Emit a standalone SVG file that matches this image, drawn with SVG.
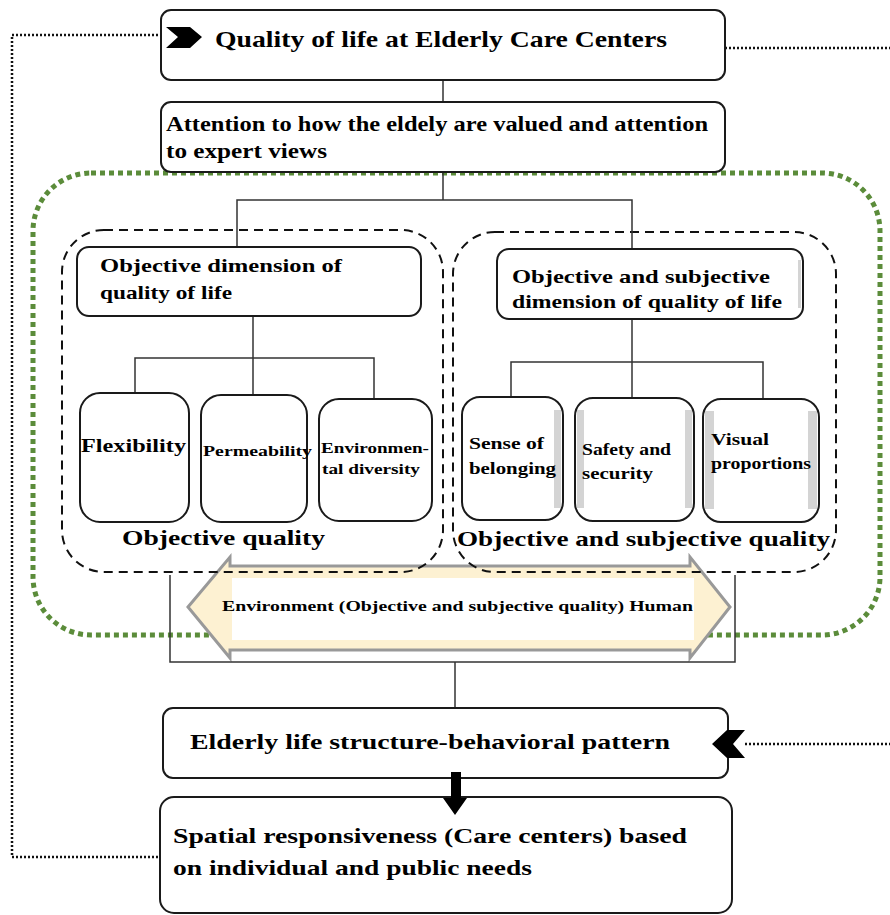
<svg xmlns="http://www.w3.org/2000/svg" width="890" height="915" viewBox="0 0 890 915">
<style>
.box{fill:#fff;stroke:#1a1a1a;stroke-width:2}
.t{font-family:"Liberation Serif","Times New Roman",serif;font-weight:bold;fill:#000}
.ln{fill:none;stroke:#333;stroke-width:1.5}
.dot{fill:none;stroke:#111;stroke-width:2.5;stroke-dasharray:2 2}
.dash{fill:none;stroke:#111;stroke-width:2;stroke-dasharray:9 6}
.stripe{fill:#d4d4d4}
</style>
<rect id="green-region" x="33" y="173" width="847" height="462" rx="58" fill="none" stroke="#5b8c3a" stroke-width="5" stroke-dasharray="5 4"/>
<g id="env-arrow">
<polygon points="188,607 230,557 230,566 690,566 690,557 730,607 690,658 690,650 230,650 230,658" fill="#fdf1d2" stroke="#999" stroke-width="3"/>
<rect x="232" y="578" width="462" height="62" fill="#fff"/>
<text class="t" x="222" y="611" font-size="15" textLength="471" lengthAdjust="spacingAndGlyphs">Environment  (Objective and subjective quality) Human</text>
</g>
<g id="objective-group">
<rect class="dash" x="62" y="230" width="381" height="342" rx="42"/>
</g>
<g id="subjective-group">
<rect class="dash" x="453" y="232" width="383" height="340" rx="42"/>
</g>
<g id="connectors">
<line class="ln" x1="443" y1="80" x2="443" y2="102"/>
<polyline class="ln" points="443,160 443,200"/>
<polyline class="ln" points="237,247 237,200 632,200 632,249"/>
<line class="ln" x1="253" y1="316" x2="253" y2="395"/>
<polyline class="ln" points="135,393 135,358 374,358 374,399"/>
<line class="ln" x1="632" y1="319" x2="632" y2="398"/>
<polyline class="ln" points="511,397 511,362 763,362 763,399"/>
<polyline class="ln" points="170,575 170,662 735,662 735,575"/>
<line class="ln" x1="455" y1="662" x2="455" y2="708"/>
<polyline class="dot" points="166,35 12,35 12,857 160,857"/>
<line class="dot" x1="725" y1="48" x2="890" y2="48"/>
<line class="dot" x1="745" y1="744" x2="890" y2="744"/>
</g>
<g id="quality-of-life">
<rect class="box" x="161" y="10" width="564" height="70" rx="10"/>
<text class="t" x="215" y="47" font-size="24" textLength="452" lengthAdjust="spacingAndGlyphs">Quality of life at Elderly Care Centers</text>
</g>
<g id="attention">
<rect class="box" x="161" y="102" width="564" height="70" rx="10"/>
<text class="t" x="166" y="131" font-size="20" textLength="542" lengthAdjust="spacingAndGlyphs">Attention to how the eldely are valued and attention</text>
<text class="t" x="166" y="158" font-size="20" textLength="161" lengthAdjust="spacingAndGlyphs">to expert views</text>
</g>
<g id="objective-dimension">
<rect class="box" x="77" y="247" width="344" height="69" rx="12"/>
<text class="t" x="100" y="272" font-size="19" textLength="242" lengthAdjust="spacingAndGlyphs">Objective dimension of</text>
<text class="t" x="100" y="299" font-size="19" textLength="132" lengthAdjust="spacingAndGlyphs">quality of life</text>
</g>
<g id="flexibility">
<rect class="box" x="80" y="393" width="109" height="129" rx="20"/>
<text class="t" x="81" y="452" font-size="19" textLength="105" lengthAdjust="spacingAndGlyphs">Flexibility</text>
</g>
<g id="permeability">
<rect class="box" x="201" y="395" width="106" height="127" rx="20"/>
<text class="t" x="203" y="456" font-size="15" textLength="109" lengthAdjust="spacingAndGlyphs">Permeability</text>
</g>
<g id="environmental-diversity">
<rect class="box" x="319" y="399" width="113" height="122" rx="20"/>
<text class="t" x="321" y="453" font-size="14" textLength="108" lengthAdjust="spacingAndGlyphs">Environmen-</text>
<text class="t" x="322" y="474" font-size="14" textLength="98" lengthAdjust="spacingAndGlyphs">tal diversity</text>
</g>
<text id="objective-quality-label" class="t" x="122" y="545" font-size="21" textLength="203" lengthAdjust="spacingAndGlyphs">Objective quality</text>
<g id="subjective-dimension">
<rect class="box" x="497" y="249" width="306" height="70" rx="12"/>
<rect class="stripe" x="798" y="260" width="3" height="48"/>
<text class="t" x="512" y="283" font-size="19" textLength="258" lengthAdjust="spacingAndGlyphs">Objective and subjective</text>
<text class="t" x="512" y="308" font-size="19" textLength="270" lengthAdjust="spacingAndGlyphs">dimension of quality of life</text>
</g>
<g id="sense-of-belonging">
<rect class="box" x="462" y="397" width="101" height="123" rx="18"/>
<rect class="stripe" x="554" y="410" width="7" height="98"/>
<text class="t" x="469" y="449" font-size="16" textLength="75" lengthAdjust="spacingAndGlyphs">Sense of</text>
<text class="t" x="469" y="474" font-size="16" textLength="87" lengthAdjust="spacingAndGlyphs">belonging</text>
</g>
<g id="safety-security">
<rect class="box" x="575" y="398" width="119" height="123" rx="18"/>
<rect class="stripe" x="577" y="410" width="7" height="98"/>
<rect class="stripe" x="685" y="410" width="7" height="98"/>
<text class="t" x="582" y="455" font-size="16" textLength="89" lengthAdjust="spacingAndGlyphs">Safety and</text>
<text class="t" x="582" y="479" font-size="16" textLength="71" lengthAdjust="spacingAndGlyphs">security</text>
</g>
<g id="visual-proportions">
<rect class="box" x="703" y="399" width="116" height="123" rx="18"/>
<rect class="stripe" x="705" y="411" width="9" height="98"/>
<rect class="stripe" x="808" y="411" width="9" height="98"/>
<text class="t" x="711" y="445" font-size="16" textLength="58" lengthAdjust="spacingAndGlyphs">Visual</text>
<text class="t" x="711" y="469" font-size="16" textLength="100" lengthAdjust="spacingAndGlyphs">proportions</text>
</g>
<text id="subjective-quality-label" class="t" x="457" y="546" font-size="21" textLength="373" lengthAdjust="spacingAndGlyphs">Objective and subjective quality</text>
<g id="behavioral-pattern">
<rect class="box" x="163" y="708" width="565" height="70" rx="10"/>
<text class="t" x="190" y="749" font-size="22" textLength="480" lengthAdjust="spacingAndGlyphs">Elderly life structure-behavioral pattern</text>
</g>
<g id="spatial-responsiveness">
<rect class="box" x="160" y="797" width="572" height="116" rx="14"/>
<text class="t" x="173" y="843" font-size="22" textLength="514" lengthAdjust="spacingAndGlyphs">Spatial responsiveness (Care centers) based</text>
<text class="t" x="173" y="875" font-size="22" textLength="359" lengthAdjust="spacingAndGlyphs">on individual and public needs</text>
</g>
<g id="arrowheads">
<polygon points="166,27 190,27 202,37 190,48 166,48 178,37" fill="#000"/>
<polygon points="745,730 727,730 712,744 727,758 745,758 733,744" fill="#000"/>
<polygon points="451,772 461,772 461,798 467,798 455,815 443,798 451,798" fill="#000"/>
</g>
</svg>
